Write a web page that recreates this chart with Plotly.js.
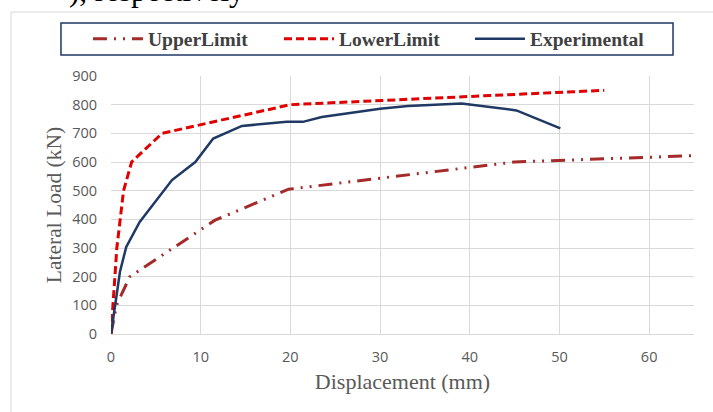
<!DOCTYPE html>
<html>
<head>
<meta charset="utf-8">
<script src="https://cdn.plot.ly/plotly-3.0.1.min.js"></script>
<style>html,body{margin:0;padding:0;background:#fff;}#chart{width:713px;height:412px;}</style>
</head>
<body>
<div id="chart"></div>
<script>
// Data
const upperX = [0, 0.6, 2.1, 11.6, 19.8, 45, 65];
const upperY = [0, 100, 200, 397, 505, 600, 622];

const lowerX = [0, 0.3, 0.65, 1.4, 2.3, 5.7, 20, 55];
const lowerY = [0, 150, 300, 500, 600, 700, 800, 850];

const expX = [0, 1.0, 1.7, 3.2, 6.8, 9.4, 11.4, 14.6, 19.6, 21.4, 23.5, 30, 33.1, 39.1, 45.2, 50.1];
const expY = [0, 217, 304, 391, 537, 600, 682, 726, 740, 740, 757, 786, 795, 804, 780, 717];

const seriesNames = ["UpperLimit", "LowerLimit", "Experimental"];
const xTicks = [0, 10, 20, 30, 40, 50, 60];
const yTicks = [0, 100, 200, 300, 400, 500, 600, 700, 800, 900];

const traces = [
  {x: upperX, y: upperY, name: seriesNames[0], mode: "lines",
   line: {color: "#a52a2a", width: 3, dash: "14px,7px,2px,7px,2px,7px"}},
  {x: lowerX, y: lowerY, name: seriesNames[1], mode: "lines",
   line: {color: "#e00000", width: 3, dash: "8px,4px"}},
  {x: expX, y: expY, name: seriesNames[2], mode: "lines",
   line: {color: "#1f3864", width: 2.5}}
];

const layout = {
  width: 713, height: 412,
  margin: {l: 111, r: 19, t: 76, b: 78},
  paper_bgcolor: "#ffffff", plot_bgcolor: "#ffffff",
  showlegend: true,
  legend: {
    orientation: "h", x: -0.0395, xanchor: "left", y: 1.1434, yanchor: "middle",
    font: {family: "Liberation Serif", size: 19.5, color: "#404040", weight: "bold"},
    itemwidth: 50, entrywidth: 126, entrywidthmode: "pixels",
    borderwidth: 0, bgcolor: "rgba(0,0,0,0)", traceorder: "normal"
  },
  xaxis: {
    range: [0, 65], tickvals: xTicks, ticktext: xTicks.map(String),
    showgrid: true, gridcolor: "#d9d9d9", gridwidth: 1,
    zeroline: false, showline: true, linecolor: "#d9d9d9", linewidth: 1,
    ticks: "", ticklabelstandoff: 10,
    tickfont: {family: "Open Sans", size: 14.5, color: "#595959"},
    title: {text: "Displacement (mm)", standoff: 8,
            font: {family: "Liberation Serif", size: 22, color: "#595959"}},
    automargin: true, fixedrange: true
  },
  yaxis: {
    range: [0, 900], tickvals: yTicks, ticktext: yTicks.map(String),
    showgrid: true, gridcolor: "#d9d9d9", gridwidth: 1,
    zeroline: false, showline: false,
    ticks: "", ticklabelstandoff: 13,
    tickfont: {family: "Open Sans", size: 14.5, color: "#595959"},
    title: {text: "Lateral Load (kN)", standoff: 4,
            font: {family: "Liberation Serif", size: 21.5, color: "#595959"}},
    automargin: true, fixedrange: true
  },
  shapes: [
    {type: "rect", xref: "paper", yref: "paper", x0: -0.1715, x1: 1.3, y0: -0.6, y1: 1.248,
     line: {color: "#d9d9d9", width: 1}, fillcolor: "rgba(0,0,0,0)", layer: "below"},
    {type: "rect", xref: "paper", yref: "paper", x0: -0.0858, x1: 0.964, y0: 1.0814, y1: 1.2054,
     line: {color: "#1f3864", width: 1.5}, fillcolor: "rgba(0,0,0,0)"}
  ],
  annotations: [
    {text: "), respectively", xref: "paper", yref: "paper", x: -0.075, y: 1.2558,
     xanchor: "left", yanchor: "bottom", showarrow: false,
     font: {family: "Liberation Serif", size: 31, color: "#000000"}}
  ]
};

Plotly.newPlot("chart", traces, layout, {displayModeBar: false, staticPlot: true});
</script>
</body>
</html>
